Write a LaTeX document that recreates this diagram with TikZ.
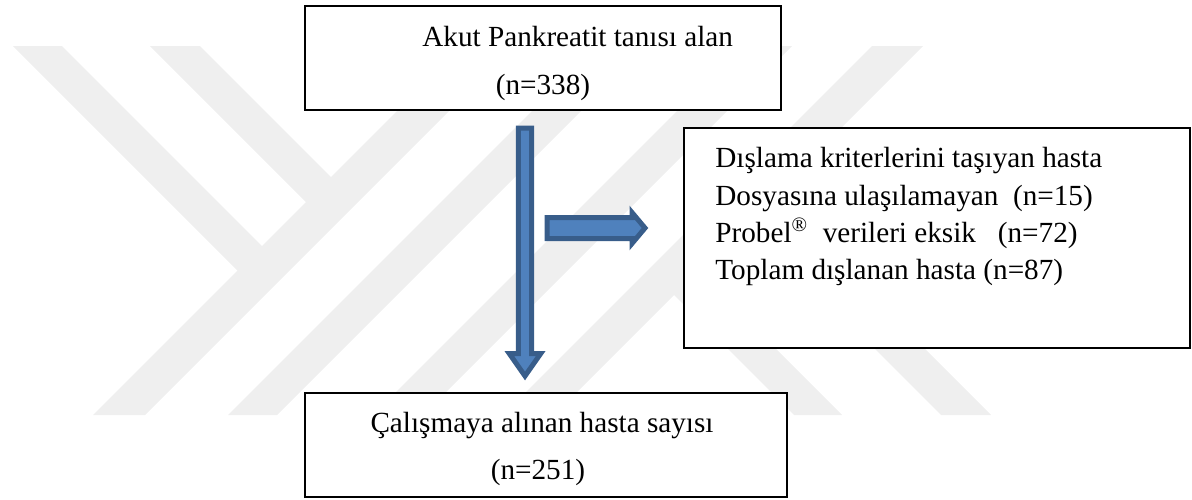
\documentclass[tikz,border=0pt]{standalone}
\usepackage{fontspec}
\setmainfont{Liberation Serif}
\usetikzlibrary{shapes.arrows}

\definecolor{markgrey}{HTML}{EFEFEF}
\definecolor{arrowfill}{HTML}{4F81BD}
\definecolor{arrowline}{HTML}{385D8A}

\begin{document}
\begin{tikzpicture}[x=0.5pt,y=-0.5pt]

        \useasboundingbox (0,0) rectangle (1192,499);

        % background mark
        \begin{scope}[every path/.style={fill=markgrey}]
          \path (462,46) -- (514,46) -- (145,415) -- (93,415) -- cycle;
          \path (597,46) -- (646,46) -- (277,415) -- (228,415) -- cycle;
          \path (742,46) -- (792,46) -- (423,415) -- (373,415) -- cycle;
          \path (872,46) -- (923,46) -- (554,415) -- (503,415) -- cycle;
          \path (13,46)  -- (62,46)  -- (275,259) -- (250.5,283.5) -- cycle;
          \path (150,46) -- (200,46) -- (344,190) -- (319,215) -- cycle;
          \path (661,282) -- (685,258) -- (842,415) -- (794,415) -- cycle;
          \path (735,209) -- (760,184) -- (991,415) -- (941,415) -- cycle;
        \end{scope}

        \begin{scope}[every node/.style={single arrow,draw=arrowline,fill=arrowfill,
            line width=2.5pt,minimum width=0pt,anchor=tail}]
          \node[shape border rotate=270,inner xsep=2.1pt,inner ysep=3.75pt,
            single arrow head extend=4.5pt,single arrow tip angle=70,
            minimum height=124pt] (down) at (525,125.5) {};
          \node[inner xsep=0pt,inner ysep=4pt,single arrow head extend=2.5pt,
            single arrow tip angle=100,minimum height=49pt] (right) at (544.5,228) {};
        \end{scope}

        \begin{scope}[every node/.style={rectangle,draw,line width=1pt,fill=white}]
          \node[minimum width=238pt,minimum height=52pt]  (akut)    at (543,58)  {};
          \node[minimum width=253pt,minimum height=110pt] (dislama) at (937,238) {};
          \node[minimum width=241pt,minimum height=52pt]  (calisma) at (546,445) {};
        \end{scope}

        \begin{scope}[every node/.style={inner sep=0pt,font=\fontsize{14.6}{17}\selectfont}]
          \node[anchor=base west] (akut1) at (422,46)  {Akut Pankreatit tanısı alan};
          \node[anchor=base]      (akut2) at (543,94)  {(n=338)};
          \node[anchor=base west] (dis1)  at (715,167) {Dışlama kriterlerini taşıyan hasta};
          \node[anchor=base west] (dis2)  at (715,205) {Dosyasına ulaşılamayan\ \ (n=15)};
          \node[anchor=base west] (dis3)  at (715,242) {Probel\textsuperscript{®}\ \ verileri eksik\ \ \ (n=72)};
          \node[anchor=base west] (dis4)  at (715,279) {Toplam dışlanan hasta (n=87)};
          \node[anchor=base]      (cal1)  at (542,432) {Çalışmaya alınan hasta sayısı};
          \node[anchor=base]      (cal2)  at (538,479) {(n=251)};
        \end{scope}

      \end{tikzpicture}
\end{document}
